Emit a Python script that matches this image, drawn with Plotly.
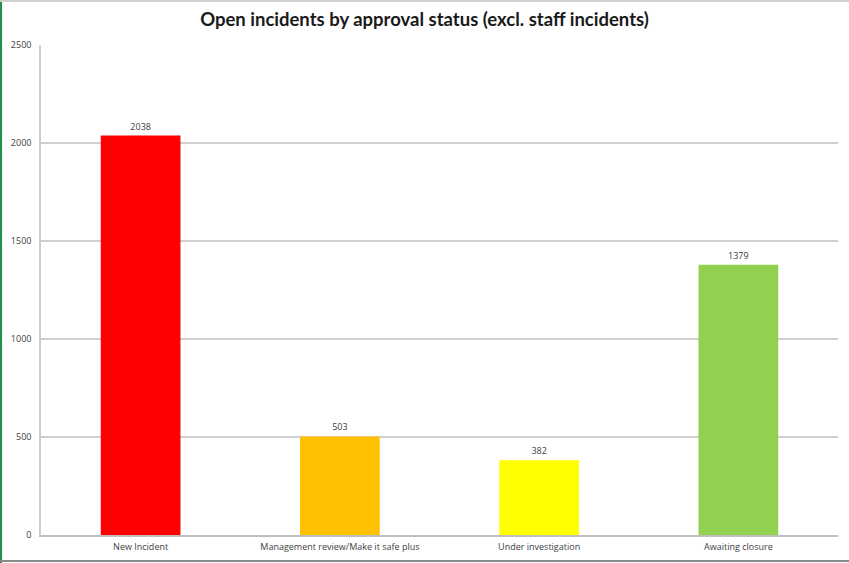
import plotly.graph_objects as go

categories = ["New Incident", "Management review/Make it safe plus", "Under investigation", "Awaiting closure"]
values = [2038, 503, 382, 1379]
colors = ["#ff0000", "#ffc000", "#ffff00", "#92d050"]
y_ticks = [0, 500, 1000, 1500, 2000, 2500]

fig = go.Figure()
fig.add_trace(go.Bar(
    x=categories, y=values, marker=dict(color=colors, line=dict(width=0)),
    width=0.4, text=[str(v) for v in values], textposition="outside",
    textfont=dict(size=9, color="#404040", family="Open Sans"),
    cliponaxis=False, hoverinfo="x+y",
))
fig.update_layout(
    width=849, height=563,
    margin=dict(l=41, r=11, t=45, b=28),
    paper_bgcolor="white", plot_bgcolor="white",
    showlegend=False,
    title=dict(text="<b>Open incidents by approval status (excl. staff incidents)</b>",
               x=0.5, xanchor="center", y=1 - 20 / 563, yanchor="middle",
               font=dict(size=18.5, color="#1a1a1a", family="Lato")),
    font=dict(family="Open Sans", color="#404040"),
    bargap=0.6,
)
fig.update_yaxes(range=[0, 2500], tickvals=y_ticks, showgrid=True, gridcolor="#cfcfcf", gridwidth=1.5,
                 showline=True, linecolor="#cfcfcf", linewidth=1.5, zeroline=False,
                 tickfont=dict(size=9, color="#404040"), ticklabelstandoff=6, fixedrange=True)
fig.update_xaxes(showline=True, linecolor="#bfbfbf", linewidth=1.5, showgrid=False,
                 tickfont=dict(size=9, color="#404040"), ticklabelstandoff=2, fixedrange=True)
# frame of the picture
fig.add_shape(type="line", xref="paper", yref="paper", x0=-40/798, x1=-40/798, y0=-28/490, y1=1+45/490,
              line=dict(color="#1e8a4a", width=2))
fig.add_shape(type="line", xref="paper", yref="paper", x0=-41/798, x1=1+11/798, y0=-26/490, y1=-26/490,
              line=dict(color="#8a8a8a", width=2))
fig.add_shape(type="line", xref="paper", yref="paper", x0=-41/798, x1=1+11/798, y0=1+44/490, y1=1+44/490,
              line=dict(color="#d0d0d0", width=2))
fig.write_html("out.html", config={"displayModeBar": False},
               post_script="document.body.style.margin='0';document.body.style.overflow='hidden';")
